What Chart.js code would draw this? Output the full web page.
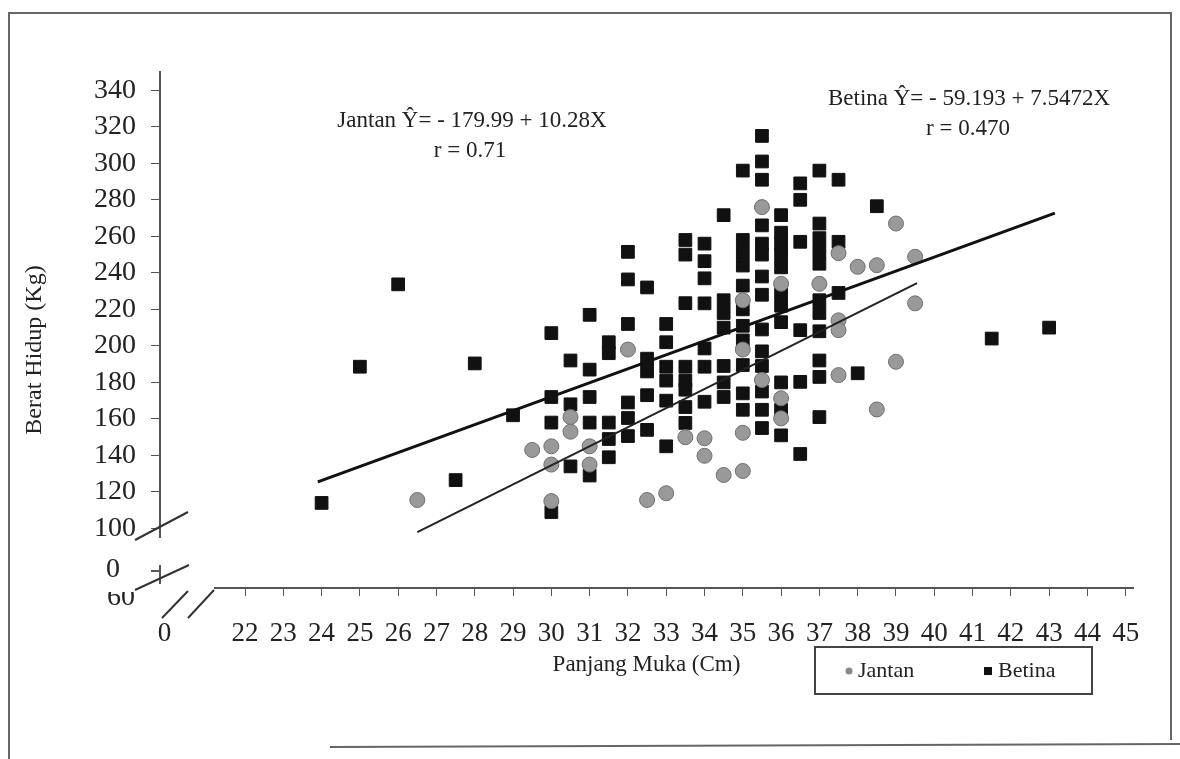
<!DOCTYPE html>
<html><head><meta charset="utf-8">
<script src="https://cdn.jsdelivr.net/npm/chart.js@4.4.0/dist/chart.umd.min.js"></script>
<style>html,body{margin:0;padding:0;background:#fff;}canvas{display:block;}</style>
</head><body>
<canvas id="c" width="1180" height="759"></canvas>
<script>
const xTickValues = [22,23,24,25,26,27,28,29,30,31,32,33,34,35,36,37,38,39,40,41,42,43,44,45];
const yTickValues = [100,120,140,160,180,200,220,240,260,280,300,320,340];

const betinaX = [24,25,26,27.5,28,29,
  30,30,30,30,
  30.5,30.5,30.5,
  31,31,31,31,31,
  31.5,31.5,31.5,31.5,31.5,
  32,32,32,32,32,32,
  32.5,32.5,32.5,32.5,32.5,
  33,33,33,33,33,33,
  33.5,33.5,33.5,33.5,33.5,33.5,33.5,33.5,
  34,34,34,34,34,34,34,
  34.5,34.5,34.5,34.5,34.5,34.5,34.5,
  35,35,35,35,35,35,35,35,35,35,35,
  35.5,35.5,35.5,35.5,35.5,35.5,35.5,35.5,35.5,35.5,35.5,35.5,35.5,35.5,
  36,36,36,36,36,36,36,36,36,36,36,
  36.5,36.5,36.5,36.5,36.5,36.5,
  37,37,37,37,37,37,37,37,37,37,37,
  37.5,37.5,37.5,
  38,38.5,41.5,43];
const betinaY = [114,188.6,233.7,126.5,190.4,162,
  207,172,158,109,
  192,168,134,
  217,187,172,158,129,
  202,196,158,149,139,
  251.5,236.4,212,169,160.5,150.6,
  232,193,186,173,154,
  212,202,188.6,181,170,145,
  258,250,223.4,188.6,181,176,166.5,157.8,
  256,246.4,237,223.3,198.6,188.6,169.4,
  271.6,225,218,210,189,180,172,
  296,258,251,244,233,220,211,203,189.5,174,165,
  315,301,291,266,256,250,238,228,209,197,189,175,165,155,
  271.6,262,256,250,243,229,222,213,180,165,151,
  289,280,257,208.6,180.3,140.8,
  296,267,259,252,245,225,218,208,192,183,161,
  291,257,229,
  185,276.5,204,210];

const jantanX = [26.5,29.5,30,30,30,30.5,30.5,31,31,32,32.5,33,33.5,34,34,34.5,
  35,35,35,35,35.5,35.5,36,36,36,37,37.5,37.5,37.5,37.5,38,38.5,38.5,39,39,39.5,39.5];
const jantanY = [115.6,143,145,135,115,161,153,145,135,198,115.6,119.3,150,149.4,139.8,129.3,
  225,198,152.4,131.5,276,181.3,234,171.3,160.3,234,250.8,214,208.6,184,243.3,244.2,165.2,267,191.3,248.8,223.3];

const jantanLineX = [26.5, 39.55];
const jantanLineY = [98, 234.4];
const betinaLineX = [23.9, 43.15];
const betinaLineY = [125.5, 272.7];

const toPts = (xs, ys) => xs.map((x, i) => ({x: x, y: ys[i]}));
const SERIF = "'Liberation Serif', 'DejaVu Serif', serif";
const INK = '#222';

const decor = {
  id: 'decor',
  afterDraw(chart) {
    const ctx = chart.ctx;
    ctx.save();
    // mask axis gaps (broken axes)
    ctx.fillStyle = '#fff';
    ctx.fillRect(154, 538, 12, 27);
    ctx.fillRect(158, 584, 56, 8);
    // y tick for "0"
    ctx.strokeStyle = '#555'; ctx.lineWidth = 2;
    ctx.beginPath(); ctx.moveTo(151, 571); ctx.lineTo(160, 571); ctx.stroke();
    // break slashes
    ctx.strokeStyle = '#333'; ctx.lineWidth = 2;
    [[135,540,188,512],[135,590,189,565],[162,618,188,591],[188,618,214,590]].forEach(s => {
      ctx.beginPath(); ctx.moveTo(s[0], s[1]); ctx.lineTo(s[2], s[3]); ctx.stroke();
    });
    // outer frame
    ctx.strokeStyle = '#666'; ctx.lineWidth = 2;
    ctx.beginPath();
    ctx.moveTo(9, 759); ctx.lineTo(9, 13); ctx.lineTo(1171, 13); ctx.lineTo(1171, 740);
    ctx.moveTo(330, 747); ctx.lineTo(1180, 744);
    ctx.stroke();
    // text
    ctx.fillStyle = INK;
    ctx.textAlign = 'center'; ctx.textBaseline = 'middle';
    ctx.font = '23px ' + SERIF;
    ctx.fillText('Jantan Ŷ= - 179.99 + 10.28X', 472, 121);
    ctx.fillText('r = 0.71', 470, 151);
    ctx.fillText('Betina Ŷ= - 59.193 + 7.5472X', 969, 99);
    ctx.fillText('r = 0.470', 968, 129);
    // y break labels
    ctx.font = '28px ' + SERIF;
    ctx.fillText('0', 113, 570);
    ctx.save();
    ctx.beginPath(); ctx.rect(95, 592, 50, 20); ctx.clip();
    ctx.fillText('60', 121, 598);
    ctx.restore();
    // y title
    ctx.save();
    ctx.translate(35, 350); ctx.rotate(-Math.PI / 2);
    ctx.font = '24px ' + SERIF;
    ctx.fillText('Berat Hidup (Kg)', 0, 0);
    ctx.restore();
    // legend
    ctx.strokeStyle = '#444'; ctx.lineWidth = 2;
    ctx.strokeRect(815, 647, 277, 47);
    ctx.fillStyle = '#888';
    ctx.beginPath(); ctx.arc(849, 671, 3.5, 0, Math.PI * 2); ctx.fill();
    ctx.fillStyle = '#111';
    ctx.fillRect(984, 667, 8, 8);
    ctx.fillStyle = INK;
    ctx.textAlign = 'left';
    ctx.font = '22px ' + SERIF;
    ctx.fillText('Jantan', 858, 671);
    ctx.fillText('Betina', 998, 671);
    ctx.restore();
  }
};

new Chart(document.getElementById('c'), {
  type: 'scatter',
  data: {
    datasets: [
      {label: 'Betina line', type: 'line', data: toPts(betinaLineX, betinaLineY), showLine: true,
       borderColor: '#111', borderWidth: 3, pointRadius: 0, fill: false, order: 0},
      {label: 'Jantan line', type: 'line', data: toPts(jantanLineX, jantanLineY), showLine: true,
       borderColor: '#222', borderWidth: 2, pointRadius: 0, fill: false, order: 1},
      {label: 'Jantan', data: toPts(jantanX, jantanY), pointStyle: 'circle', pointRadius: 7.5,
       backgroundColor: '#999', borderColor: '#707070', borderWidth: 1, order: 2},
      {label: 'Betina', data: toPts(betinaX, betinaY), pointStyle: 'rect', pointRadius: 9,
       backgroundColor: '#111', borderColor: '#111', borderWidth: 1, order: 3}
    ]
  },
  options: {
    responsive: false,
    animation: false,
    devicePixelRatio: 1,
    layout: {padding: {left: 10, top: 72, right: 47, bottom: 0}},
    plugins: {legend: {display: false}, tooltip: {enabled: false}},
    scales: {
      x: {
        type: 'linear', min: 19.78, max: 45.19,
        afterBuildTicks: s => { s.ticks = [19.9].concat(xTickValues).map(v => ({value: v})); },
        afterFit: s => { s.height = 171; },
        ticks: {
          callback: v => (v < 21 ? '0' : String(v)),
          font: {family: SERIF, size: 27}, color: INK, padding: 22,
          autoSkip: false, maxRotation: 0
        },
        grid: {drawOnChartArea: false, tickLength: 8,
          tickColor: c => (c.tick && c.tick.value < 21) ? 'rgba(0,0,0,0)' : '#555'},
        border: {color: '#555', width: 2},
        title: {display: true, text: 'Panjang Muka (Cm)', font: {family: SERIF, size: 23},
          color: INK, padding: {top: 0, bottom: 80}}
      },
      y: {
        type: 'linear', min: 67.4, max: 350,
        afterBuildTicks: s => { s.ticks = yTickValues.map(v => ({value: v})); },
        afterFit: s => { s.width = 150; },
        ticks: {font: {family: SERIF, size: 28}, color: INK, padding: 15, autoSkip: false},
        grid: {drawOnChartArea: false, tickLength: 9, tickColor: '#555'},
        border: {color: '#555', width: 2}
      }
    }
  },
  plugins: [decor]
});
</script>
</body></html>
